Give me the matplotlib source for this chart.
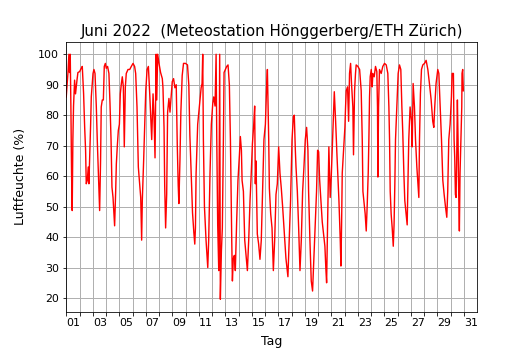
import matplotlib
matplotlib.use("Agg")
import matplotlib.pyplot as plt

# Tag im Juni (1.0 = 01.06. 00:00) und relative Luftfeuchte in %
tag = [
    1.00, 1.13, 1.20, 1.25, 1.30, 1.35, 1.40, 1.45, 1.50, 1.55, 1.63, 1.70, 1.81, 1.88,
    2.01, 2.13, 2.21, 2.31, 2.39, 2.46, 2.51, 2.59, 2.66, 2.71, 2.76, 2.84, 2.89, 2.96,
    3.02, 3.09, 3.17, 3.27, 3.34, 3.44, 3.52, 3.59, 3.64, 3.72, 3.80, 3.87, 3.95,
    4.02, 4.12, 4.22, 4.30, 4.38, 4.45, 4.53, 4.60, 4.65, 4.73, 4.78, 4.85, 4.93,
    5.01, 5.08, 5.16, 5.23, 5.31, 5.38, 5.46, 5.53, 5.66, 5.79, 5.91,
    6.04, 6.16, 6.24, 6.34, 6.44, 6.54, 6.62, 6.69, 6.74, 6.84, 6.92,
    7.00, 7.10, 7.20, 7.30, 7.45, 7.55, 7.62, 7.70, 7.78, 7.83, 7.90,
    8.00, 8.12, 8.25, 8.30, 8.38, 8.43, 8.50, 8.58, 8.65, 8.75, 8.83, 8.93,
    9.00, 9.10, 9.20, 9.30, 9.38, 9.45, 9.50, 9.58, 9.65, 9.75, 9.85,
    10.00, 10.15, 10.25, 10.33, 10.43, 10.53, 10.63, 10.70, 10.75, 10.80, 10.92,
    11.05, 11.18, 11.25, 11.30, 11.35, 11.43, 11.55, 11.68, 11.75, 11.85, 11.95,
    12.06, 12.13, 12.23, 12.31, 12.36, 12.43, 12.51, 12.58, 12.63, 12.71, 12.78, 12.86, 12.91,
    13.01, 13.11, 13.21, 13.31, 13.39, 13.44, 13.49, 13.54, 13.61, 13.69, 13.76, 13.86, 13.96,
    14.07, 14.14, 14.22, 14.27, 14.37, 14.47, 14.57, 14.67, 14.77, 14.87, 14.94,
    15.05, 15.15, 15.22, 15.27, 15.32, 15.42, 15.52, 15.62, 15.72, 15.82, 15.92,
    16.03, 16.13, 16.18, 16.23, 16.28, 16.33, 16.43, 16.53, 16.63, 16.73, 16.83, 16.93,
    17.03, 17.13, 17.23, 17.33, 17.43, 17.58, 17.73, 17.83, 17.93,
    18.04, 18.14, 18.21, 18.29, 18.34, 18.44, 18.54, 18.64, 18.74, 18.84, 18.94,
    19.04, 19.14, 19.24, 19.29, 19.39, 19.49, 19.59, 19.69, 19.79, 19.89, 19.97,
    20.05, 20.12, 20.25, 20.32, 20.42, 20.52, 20.60, 20.65, 20.72, 20.82, 20.87, 20.92,
    21.00, 21.08, 21.18, 21.23, 21.33, 21.43, 21.53, 21.58, 21.68, 21.73, 21.78, 21.83, 21.93,
    22.03, 22.08, 22.13, 22.23, 22.31, 22.38, 22.46, 22.53, 22.63, 22.68, 22.76, 22.83, 22.88,
    23.01, 23.14, 23.26, 23.34, 23.39, 23.46, 23.56, 23.64, 23.71, 23.79, 23.84, 23.89, 23.94,
    24.02, 24.09, 24.14, 24.24, 24.34, 24.44, 24.49, 24.52, 24.57, 24.64, 24.77, 24.89,
    25.02, 25.15, 25.27, 25.35, 25.40, 25.45, 25.52, 25.60, 25.68, 25.74, 25.80, 25.85, 25.95,
    26.05, 26.15, 26.25, 26.33, 26.40, 26.48, 26.55, 26.65, 26.73, 26.80, 26.85, 26.95,
    27.06, 27.11, 27.18, 27.28, 27.36, 27.46, 27.56, 27.61, 27.66, 27.73, 27.81, 27.91,
    28.04, 28.16, 28.29, 28.41, 28.54, 28.66, 28.74, 28.81, 28.91,
    29.04, 29.12, 29.22, 29.32, 29.42, 29.52, 29.62, 29.72, 29.79, 29.87, 29.97,
    30.07, 30.12, 30.22, 30.27, 30.32, 30.37, 30.42, 30.47, 30.52, 30.57, 30.62, 30.67,
    30.72, 30.77, 30.85, 30.87, 30.92, 30.97,
]
feuchte = [
    86, 94, 100, 94, 100, 83, 61, 48.7, 72, 83, 91.5, 87, 91.5, 94,
    94.3, 95.4, 96, 87, 76, 68.5, 57.5, 58.6, 63, 57.5, 65, 77, 86, 90.4,
    93.7, 95, 93.7, 82.7, 72, 58.6, 48.7, 65, 82.7, 85, 85, 96, 97,
    95.4, 96, 93.7, 84, 72, 56.4, 53, 47.6, 43.7, 55, 64, 69.6, 75,
    77, 87, 90.4, 92.6, 89.3, 69.6, 89.3, 93.7, 95, 95, 96,
    97, 96, 93.7, 82.7, 63, 57.5, 53, 39, 52, 65, 77,
    88, 95, 96, 87, 72, 87, 80, 66, 100, 85, 100,
    97, 94, 92, 89, 76, 57, 43, 54, 81, 85.5, 81, 87,
    91, 92, 89, 90, 70, 57, 51, 65, 81, 93, 97,
    97, 96.5, 90, 73.4, 61, 48, 41.5, 37.7, 43, 61, 77,
    83, 89, 90.4, 100, 72, 50, 39, 30, 39, 61, 77,
    84, 86, 83, 100, 72, 44, 29, 100, 19.6, 35.5, 43, 72, 94,
    95, 96, 96.5, 90, 72, 55, 39, 25.6, 33, 34, 29, 45, 58.6,
    67, 73, 68.5, 58.6, 55, 39, 34, 29, 39, 52, 58.6,
    70.6, 77, 83, 57.5, 65, 41, 37.7, 32.7, 39, 56, 72,
    77, 90.4, 95, 83, 72, 56, 47.6, 43, 29, 39, 54, 57.5,
    69.6, 61, 56, 50, 43, 33, 27, 39, 52,
    72, 79.5, 80, 68.5, 63, 55, 43, 29, 39, 55, 63,
    72, 76, 68.5, 55, 39, 25.6, 22.3, 33, 43, 55, 68.5,
    68, 59, 50, 45, 41, 37, 29, 25, 44, 69.6, 61, 53,
    59.7, 69.6, 81.6, 87.7, 78, 67, 57.5, 52, 39, 30.5, 44, 61, 68.5,
    76, 82.7, 88, 89.3, 78, 93.7, 97, 90.4, 82.7, 67, 88, 93.7, 96.5,
    96, 95, 88, 72, 55, 52, 47.6, 42, 50, 61, 72, 86, 92.6,
    95, 89.3, 93.7, 92.6, 96, 94.3, 82.7, 59.7, 82.7, 95, 93.7, 96,
    97, 96.5, 93.7, 82.7, 72, 55, 47.6, 43, 37, 44, 57.5, 72, 82.7,
    93.7, 96.5, 95, 82.7, 74, 61, 52, 47.6, 44, 61, 72, 82.7,
    78, 69.6, 90.4, 82.7, 72, 63, 56.4, 53, 72, 87, 95, 96.5,
    97, 98, 95, 90.4, 85, 78, 76, 82.7, 90.4,
    95, 93.7, 82.7, 72, 58.6, 54, 50, 46.5, 55, 72, 77,
    86, 93.7, 93.7, 72, 66, 54, 53, 66, 85, 72, 54, 42,
    61, 69.6, 82.7, 93.7, 95, 88,
]

tage = list(range(1, 32))
tag_labels = ["%02d" % t if t % 2 == 1 else "" for t in tage]

fig = plt.figure(figsize=(530 / 72, 350 / 72), dpi=72)
ax = fig.add_subplot(111)
ax.plot(tag, feuchte, color="red", linewidth=1.4)

ax.set_xlim(1, 32)
ax.set_xticks(tage)
ax.set_xticklabels(tag_labels, ha="left")
ax.tick_params(labelsize=11)
ax.grid(True, color="#b0b0b0", linewidth=1.0)

ax.set_xlabel("Tag", fontsize=12.5, labelpad=7)
ax.set_ylabel("Luftfeuchte (%)", fontsize=12.5, labelpad=11)
ax.set_title("Juni 2022  (Meteostation Hönggerberg/ETH Zürich)", fontsize=15)

fig.savefig("out.png", dpi=72)
